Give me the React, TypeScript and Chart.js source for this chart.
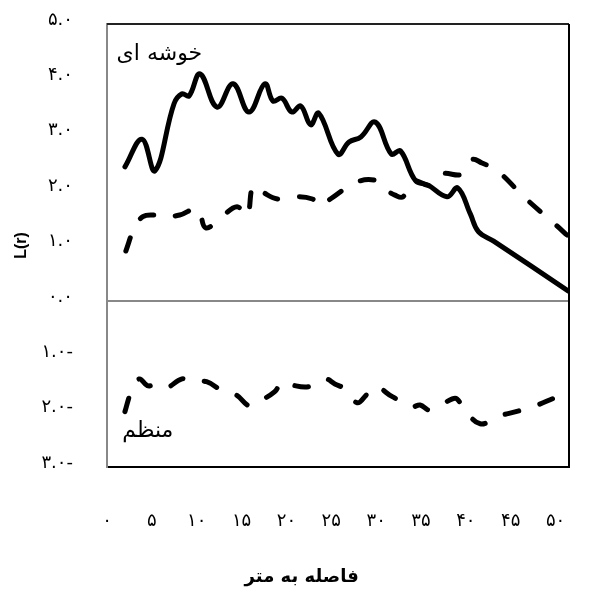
import { useEffect, useRef } from "react";
import { Chart, registerables } from "chart.js";

Chart.register(...registerables);

// Observed L(r) (solid line)
const observedDistance = [2.0, 3.9, 5.35, 7.47, 8.36, 9.14, 10.37, 12.26, 14.05, 15.83, 17.6, 18.5, 19.5, 20.6, 21.6, 22.7, 23.6, 25.75, 26.98, 28.3, 29.9, 31.7, 32.7, 34.4, 35.8, 37.9, 39.1, 40.5, 41.4, 43.1, 51.4];
const observedL = [2.42, 2.92, 2.35, 3.56, 3.74, 3.7, 4.1, 3.5, 3.92, 3.41, 3.92, 3.61, 3.66, 3.41, 3.52, 3.18, 3.39, 2.65, 2.87, 2.96, 3.23, 2.65, 2.71, 2.17, 2.09, 1.88, 2.04, 1.57, 1.25, 1.08, 0.18];

// Upper envelope (dashed)
const upperDistance = [2.1, 3.1, 4.0, 5.1, 6.2, 8.1, 10.1, 11.0, 12.8, 14.5, 15.6, 16.3, 17.3, 19.0, 20.7, 22.9, 23.7, 24.9, 27.9, 30.1, 31.0, 32.1, 33.0, 34.0, 36.2, 37.3, 39.6, 40.7, 41.8, 43.5, 46.6, 49.9, 51.4];
const upperL = [0.9, 1.34, 1.52, 1.55, 1.52, 1.55, 1.66, 1.32, 1.52, 1.7, 1.53, 2.08, 1.97, 1.84, 1.88, 1.84, 1.71, 1.84, 2.15, 2.17, 2.02, 1.91, 1.88, 2.17, 2.08, 2.29, 2.29, 2.55, 2.49, 2.35, 1.86, 1.39, 1.17];

// Lower envelope (dashed)
const lowerDistance = [2.0, 2.7, 3.6, 4.5, 5.35, 6.5, 8.36, 9.25, 11.1, 13.0, 14.4, 15.9, 16.9, 18.7, 19.5, 20.6, 22.5, 24.3, 25.4, 26.5, 27.9, 28.9, 29.9, 31.8, 34.0, 34.9, 36.0, 38.5, 39.0, 39.8, 41.6, 43.5, 45.8, 48.0, 50.3, 51.5];
const lowerL = [-2.0, -1.64, -1.41, -1.53, -1.52, -1.58, -1.41, -1.46, -1.46, -1.64, -1.7, -1.9, -1.82, -1.64, -1.46, -1.52, -1.55, -1.41, -1.5, -1.59, -1.84, -1.7, -1.55, -1.73, -1.91, -1.88, -1.97, -1.77, -1.77, -1.95, -2.22, -2.09, -1.99, -1.88, -1.73, -1.7];

const xMin = 0;
const xMax = 51.5;
const xStep = 5;
const yMin = -3;
const yMax = 5;
const yStep = 1;

const xAxisTitle = "فاصله به متر";
const yAxisTitle = "L(r)";
const clusteredLabel = "خوشه ای";
const regularLabel = "منظم";

const FONT = "'DejaVu Sans', sans-serif";

const toFa = (s: string) => s.replace(/\d/g, (d) => "۰۱۲۳۴۵۶۷۸۹"[Number(d)]);

const zip = (xs: number[], ys: number[]) => xs.map((x, i) => ({ x, y: ys[i] }));

const noPad = (s: any) => {
  s.paddingTop = 0;
  s.paddingBottom = 0;
  s.paddingLeft = 0;
  s.paddingRight = 0;
};

const decorPlugin = {
  id: "decor",
  beforeDatasetsDraw(chart: any) {
    const { ctx, chartArea } = chart;
    ctx.save();
    ctx.lineWidth = 2;
    ctx.strokeStyle = "#222";
    ctx.beginPath();
    ctx.moveTo(chartArea.left, chartArea.top);
    ctx.lineTo(chartArea.right, chartArea.top);
    ctx.stroke();
    ctx.strokeStyle = "#000";
    ctx.beginPath();
    ctx.moveTo(chartArea.right, chartArea.top);
    ctx.lineTo(chartArea.right, chartArea.bottom);
    ctx.stroke();
    ctx.restore();
  },
  afterDraw(chart: any) {
    const { ctx, chartArea } = chart;
    const x = chart.scales.x;
    const y = chart.scales.y;
    ctx.save();
    ctx.fillStyle = "#000";
    ctx.font = `22px ${FONT}`;
    ctx.textAlign = "right";
    ctx.textBaseline = "middle";
    ctx.fillText(clusteredLabel, x.getPixelForValue(10.6), y.getPixelForValue(4.46));
    ctx.fillText(regularLabel, x.getPixelForValue(7.4), y.getPixelForValue(-2.35));
    ctx.font = `bold 18px ${FONT}`;
    ctx.textAlign = "center";
    ctx.fillText(xAxisTitle, x.getPixelForValue(21.7), chartArea.bottom + 110);
    ctx.restore();
  },
};

export default function App() {
  const ref = useRef<HTMLCanvasElement | null>(null);

  useEffect(() => {
    if (!ref.current) return;
    const common = {
      borderColor: "#000",
      borderWidth: 5,
      pointRadius: 0,
      tension: 0.4,
      fill: false,
      borderCapStyle: "round" as const,
      borderJoinStyle: "round" as const,
    };
    const chart = new Chart(ref.current, {
      type: "line",
      data: {
        datasets: [
          { ...common, label: "L(r)", data: zip(observedDistance, observedL) },
          { ...common, label: "upper", data: zip(upperDistance, upperL), borderDash: [14, 22] },
          { ...common, label: "lower", data: zip(lowerDistance, lowerL), borderDash: [14, 22] },
        ],
      },
      options: {
        responsive: false,
        animation: false,
        layout: { padding: { top: 24, right: 20, left: 0, bottom: 0 } },
        plugins: { legend: { display: false }, tooltip: { enabled: false } },
        scales: {
          x: {
            type: "linear",
            min: xMin,
            max: xMax,
            afterFit: (s: any) => {
              s.height = 130;
              noPad(s);
            },
            ticks: {
              stepSize: xStep,
              includeBounds: false,
              padding: 44,
              color: "#000",
              font: { family: FONT, size: 18 },
              maxRotation: 0,
              callback: (v: any) => toFa(String(v)),
            },
            grid: { display: false, drawTicks: false },
            border: { display: true, color: "#000", width: 2 },
          },
          y: {
            type: "linear",
            min: yMin,
            max: yMax,
            afterFit: (s: any) => {
              s.width = 107;
              noPad(s);
            },
            ticks: {
              stepSize: yStep,
              padding: 34,
              labelOffset: -4,
              color: "#000",
              font: { family: FONT, size: 18 },
              callback: (v: any) => {
                const n = Number(v);
                const s = toFa(Math.abs(n).toFixed(1));
                return n < 0 ? s + "-" : s;
              },
            },
            grid: {
              drawTicks: false,
              color: (c: any) => (c.tick && c.tick.value === 0 ? "#888" : "rgba(0,0,0,0)"),
              lineWidth: 2,
            },
            border: { display: true, color: "#888", width: 2 },
            title: {
              display: true,
              text: yAxisTitle,
              color: "#000",
              font: { family: "'Liberation Sans', Arial, sans-serif", size: 16, weight: "bold" },
              padding: { top: 12, bottom: 0 },
            },
          },
        },
      },
      plugins: [decorPlugin],
    });
    return () => chart.destroy();
  }, []);

  return (
    <div style={{ position: "fixed", left: 0, top: 0, width: 589, height: 597, background: "#fff" }}>
      <canvas ref={ref} width={589} height={597} />
    </div>
  );
}
